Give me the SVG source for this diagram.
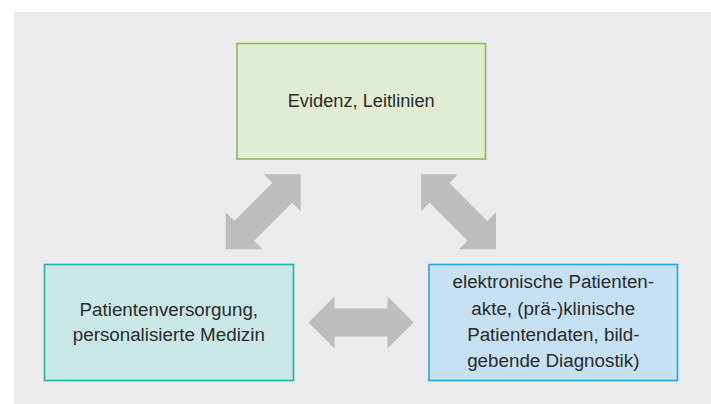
<svg xmlns="http://www.w3.org/2000/svg" width="711" height="404" viewBox="0 0 711 404">
  <style>
    .box { stroke-width: 1.6; }
    .lbl { font-family: "Liberation Sans", Arial, sans-serif; font-size: 18.8px; fill: #2b2b2b; text-anchor: middle; }
    .arrow { fill: #bcbdc0; stroke: none; }
  </style>
  <rect x="0" y="0" width="711" height="404" fill="#ffffff"/>
  <rect x="14" y="12" width="697" height="392" fill="#ebebed"/>

  <g id="connectors">
    <polygon class="arrow" points="300.7,174.3 300.7,211.3 292.1,202.7 254.1,240.7 262.7,249.3 225.7,249.3 225.7,212.3 234.3,220.9 272.3,182.9 263.7,174.3"/>
    <polygon class="arrow" points="421,174.3 458,174.3 449.4,182.9 487.4,220.9 496,212.3 496,249.3 459,249.3 467.6,240.7 429.6,202.7 421,211.3"/>
    <polygon class="arrow" points="308.5,322.5 334.5,296.5 334.5,308.5 387.5,308.5 387.5,296.5 413.5,322.5 387.5,348.5 387.5,336.5 334.5,336.5 334.5,348.5"/>
  </g>

  <g id="evidenz">
    <rect class="box" x="237" y="43.5" width="248.5" height="115.5" fill="#e1edd3" stroke="#8cb85c"/>
    <text class="lbl" x="361.2" y="107" textLength="147" lengthAdjust="spacingAndGlyphs">Evidenz, Leitlinien</text>
  </g>

  <g id="patientenversorgung">
    <rect class="box" x="44.5" y="264.5" width="249" height="116" fill="#c9e8e5" stroke="#20b2a6"/>
    <text class="lbl" x="168.8" y="315.5">Patientenversorgung,</text>
    <text class="lbl" x="168.8" y="341">personalisierte Medizin</text>
  </g>

  <g id="patientenakte">
    <rect class="box" x="429" y="264.5" width="248.5" height="116" fill="#c6e1f4" stroke="#24a4e2"/>
    <text class="lbl" x="553.3" y="288">elektronische Patienten-</text>
    <text class="lbl" x="553.3" y="314.5">akte, (prä-)klinische</text>
    <text class="lbl" x="553.3" y="340.5">Patientendaten, bild-</text>
    <text class="lbl" x="553.3" y="366.5">gebende Diagnostik)</text>
  </g>
</svg>
